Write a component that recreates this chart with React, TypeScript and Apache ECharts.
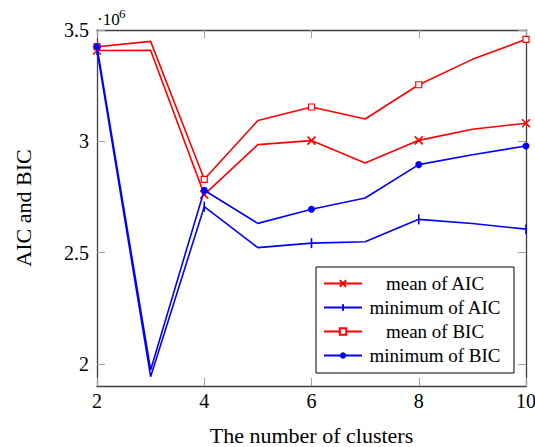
import React, { useEffect, useRef } from 'react';
import * as echarts from 'echarts';

// Number of clusters (x axis)
const clusters = [2, 3, 4, 5, 6, 7, 8, 9, 10];
// Values in units of 10^6 (as shown on the axis)
const meanAIC = [3.408, 3.409, 2.760, 2.985, 3.003, 2.902, 3.004, 3.054, 3.081];
const minAIC = [3.410, 1.942, 2.706, 2.522, 2.542, 2.548, 2.649, 2.630, 2.605];
const meanBIC = [3.425, 3.449, 2.829, 3.093, 3.154, 3.100, 3.254, 3.368, 3.458];
const minBIC = [3.425, 1.972, 2.780, 2.631, 2.694, 2.745, 2.895, 2.939, 2.979];

const yTicks = [2, 2.5, 3, 3.5];
const xTicks = [2, 4, 6, 8, 10];
const seriesNames = ['mean of AIC', 'minimum of AIC', 'mean of BIC', 'minimum of BIC'];

const RED = '#ff0000';
const BLUE = '#0000ff';
const FONT = 'Liberation Serif';
const AXIS = '#404040';
const TICK = '#a0a0a0';

const CROSS = 'path://M0,0L10,10M10,0L0,10';
const VBAR = 'path://M5,0L5,10M0,5L0,5M10,5L10,5';

function points(values: number[]) {
  return values.map((v, i) =>
    clusters[i] % 2 === 0
      ? { value: [clusters[i], v] }
      : { value: [clusters[i], v], symbol: 'none' }
  );
}

export default function App() {
  const ref = useRef<HTMLDivElement>(null);
  useEffect(() => {
    if (!ref.current) return;
    const chart = echarts.init(ref.current, null, { renderer: 'svg' });
    const xCommon = {
      type: 'value' as const,
      min: 2,
      max: 10,
      interval: 2,
      splitLine: { show: false },
      axisLine: { show: true, onZero: false, lineStyle: { color: AXIS, width: 1.3 } },
      axisTick: { show: true, inside: true, length: 8, lineStyle: { color: TICK, width: 1 } },
    };
    const yCommon = {
      type: 'value' as const,
      min: 1.9,
      max: 3.5,
      splitLine: { show: false },
      axisLine: { show: true, onZero: false, lineStyle: { color: AXIS, width: 1.3 } },
      axisTick: { show: true, inside: true, length: 8, customValues: yTicks, lineStyle: { color: TICK, width: 1 } },
    };
    chart.setOption({
      animation: false,
      backgroundColor: '#ffffff',
      grid: { left: 97, right: 9, top: 30, bottom: 61, containLabel: false, outerBoundsMode: 'none' },
      xAxis: [
        {
          ...xCommon,
          position: 'bottom',
          name: 'The number of clusters',
          nameLocation: 'middle',
          nameGap: 38,
          nameTextStyle: { fontFamily: FONT, fontSize: 22, color: '#000' },
          axisLabel: {
            show: true,
            fontFamily: FONT,
            fontSize: 20,
            color: '#000',
            margin: 5,
            customValues: xTicks,
          },
        },
        {
          ...xCommon,
          position: 'top',
          axisLabel: { show: false },
        },
      ],
      yAxis: [
        {
          ...yCommon,
          position: 'left',
          name: 'AIC and BIC',
          nameLocation: 'middle',
          nameGap: 63,
          nameTextStyle: { fontFamily: FONT, fontSize: 22, color: '#000' },
          axisLabel: {
            show: true,
            fontFamily: FONT,
            fontSize: 20,
            color: '#000',
            margin: 8,
            customValues: yTicks,
            formatter: (v: number) => String(v),
          },
        },
        {
          ...yCommon,
          position: 'right',
          axisLabel: { show: false },
        },
      ],
      legend: {
        orient: 'vertical',
        left: 316,
        top: 267,
        data: seriesNames,
        backgroundColor: '#ffffff',
        borderColor: '#000000',
        borderWidth: 1,
        borderRadius: 0,
        padding: [7, 11, 8, 7],
        itemGap: 5,
        itemWidth: 38,
        itemHeight: 8,
        formatter: (name: string) => `{c|${name}}`,
        textStyle: {
          rich: {
            c: {
              width: 136,
              align: 'center',
              fontFamily: FONT,
              fontSize: 19,
              lineHeight: 20,
              color: '#000',
            },
          },
        },
      },
      graphic: [
        {
          type: 'text',
          x: 97,
          y: 19,
          style: {
            text: '·10',
            fontFamily: FONT,
            fontSize: 17,
            fill: '#000',
            verticalAlign: 'middle',
            align: 'left',
          },
        },
        {
          type: 'text',
          x: 119,
          y: 13,
          style: {
            text: '6',
            fontFamily: FONT,
            fontSize: 13,
            fill: '#000',
            verticalAlign: 'middle',
            align: 'left',
          },
        },
      ],
      series: [
        {
          name: seriesNames[0],
          type: 'line',
          data: points(meanAIC),
          symbol: CROSS,
          symbolSize: 8,
          lineStyle: { color: RED, width: 1.6 },
          itemStyle: { color: RED, borderColor: RED, borderWidth: 1.6 },
          z: 2,
        },
        {
          name: seriesNames[1],
          type: 'line',
          data: points(minAIC),
          symbol: VBAR,
          symbolSize: 10,
          lineStyle: { color: BLUE, width: 1.6 },
          itemStyle: { color: BLUE, borderColor: BLUE, borderWidth: 1.6 },
          z: 3,
        },
        {
          name: seriesNames[2],
          type: 'line',
          data: points(meanBIC),
          symbol: 'rect',
          symbolSize: 6,
          lineStyle: { color: RED, width: 1.6 },
          itemStyle: { color: '#ffffff', borderColor: RED, borderWidth: 1.2 },
          z: 4,
        },
        {
          name: seriesNames[3],
          type: 'line',
          data: points(minBIC),
          symbol: 'circle',
          symbolSize: 7,
          lineStyle: { color: BLUE, width: 1.6 },
          itemStyle: { color: BLUE, borderColor: BLUE, borderWidth: 0 },
          z: 5,
        },
      ],
    });
    return () => chart.dispose();
  }, []);
  return <div ref={ref} style={{ width: 535, height: 447, position: 'absolute', left: 0, top: 0 }} />;
}
